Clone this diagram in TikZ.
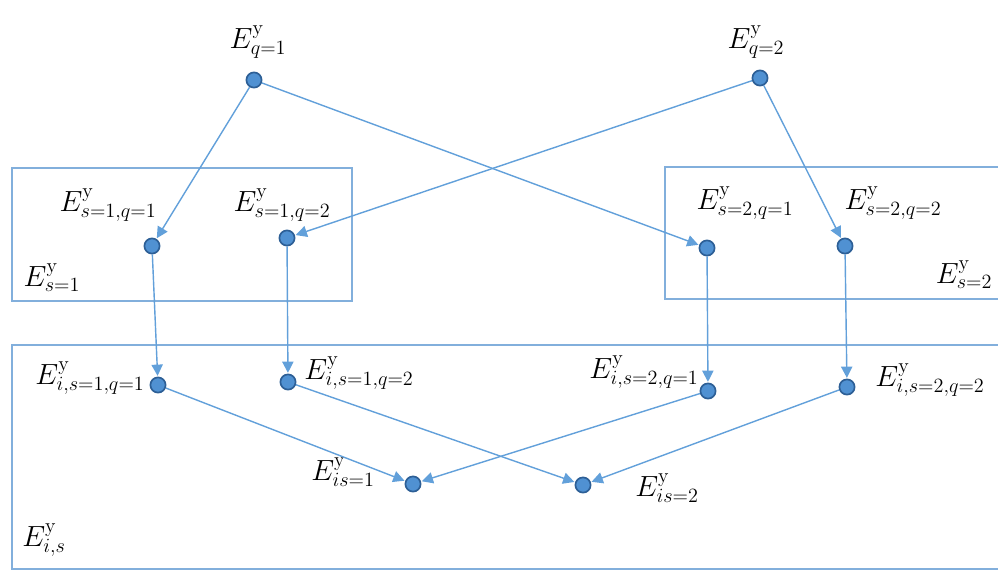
\documentclass[tikz,border=0pt]{standalone}
\usetikzlibrary{arrows.meta}
\definecolor{lineblue}{RGB}{98,160,218}
\definecolor{dotfill}{RGB}{80,145,210}
\definecolor{dotedge}{RGB}{45,95,150}
\definecolor{boxblue}{RGB}{130,175,220}
\begin{document}
\begin{tikzpicture}[x=0.025cm,y=-0.025cm,
  dot/.style={circle,fill=dotfill,draw=dotedge,line width=1.2pt,minimum size=0.38cm,inner sep=0pt},
  lbl/.style={font=\fontsize{21}{24}\selectfont,inner sep=0pt},
  conn/.style={draw=lineblue,line width=1pt,-{Triangle[length=8pt,width=8pt]},shorten >=0.5pt},
  region/.style={draw=boxblue,line width=1.1pt}]
\useasboundingbox (0,0) rectangle (998,574);
% regions
\draw[region] (12,168) rectangle (352,301);
\draw[region] (665,167) rectangle (999,299);
\draw[region] (12,345) rectangle (999,569);
% dots
\node[dot] (q1) at (254,80) {};
\node[dot] (q2) at (760,78) {};
\node[dot] (s1q1) at (152,246) {};
\node[dot] (s1q2) at (287,238) {};
\node[dot] (s2q1) at (707,248) {};
\node[dot] (s2q2) at (845,246) {};
\node[dot] (is1q1) at (158,385) {};
\node[dot] (is1q2) at (288,382) {};
\node[dot] (is2q1) at (708,391) {};
\node[dot] (is2q2) at (847,387) {};
\node[dot] (is1) at (413,484) {};
\node[dot] (is2) at (583,485) {};
% labels
\node[lbl] (Lq1) at (258,42) {$E^{\mathrm{y}}_{q=1}$};
\node[lbl] (Lq2) at (756,42) {$E^{\mathrm{y}}_{q=2}$};
\node[lbl] (Ls1q1) at (108,205) {$E^{\mathrm{y}}_{s=1,q=1}$};
\node[lbl] (Ls1q2) at (282,205) {$E^{\mathrm{y}}_{s=1,q=2}$};
\node[lbl] (Ls1) at (52,278) {$E^{\mathrm{y}}_{s=1}$};
\node[lbl] (Ls2q1) at (745,203) {$E^{\mathrm{y}}_{s=2,q=1}$};
\node[lbl] (Ls2q2) at (893,203) {$E^{\mathrm{y}}_{s=2,q=2}$};
\node[lbl] (Ls2) at (964,275) {$E^{\mathrm{y}}_{s=2}$};
\node[lbl] (Lis1q1) at (90,378) {$E^{\mathrm{y}}_{i,s=1,q=1}$};
\node[lbl] (Lis1q2) at (359,373) {$E^{\mathrm{y}}_{i,s=1,q=2}$};
\node[lbl] (Lis2q1) at (644,372) {$E^{\mathrm{y}}_{i,s=2,q=1}$};
\node[lbl] (Lis2q2) at (930,380) {$E^{\mathrm{y}}_{i,s=2,q=2}$};
\node[lbl] (Lis1) at (343,472) {$E^{\mathrm{y}}_{is=1}$};
\node[lbl] (Lis2) at (667,488) {$E^{\mathrm{y}}_{is=2}$};
\node[lbl] (Lis) at (44,540) {$E^{\mathrm{y}}_{i,s}$};
% connectors
\draw[conn] (q1) -- (s1q1);
\draw[conn] (q1) -- (s2q1);
\draw[conn] (q2) -- (s1q2);
\draw[conn] (q2) -- (s2q2);
\draw[conn] (s1q1) -- (is1q1);
\draw[conn] (s1q2) -- (is1q2);
\draw[conn] (s2q1) -- (is2q1);
\draw[conn] (s2q2) -- (is2q2);
\draw[conn] (is1q1) -- (is1);
\draw[conn] (is1q2) -- (is2);
\draw[conn] (is2q1) -- (is1);
\draw[conn] (is2q2) -- (is2);
\end{tikzpicture}
\end{document}
